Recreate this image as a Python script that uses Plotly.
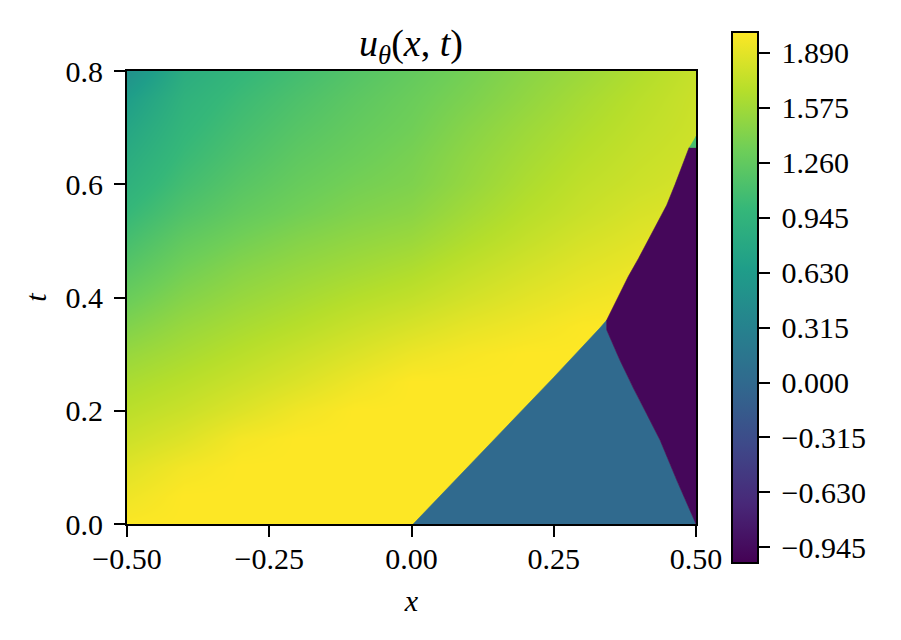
import plotly.graph_objects as go
from plotly.colors import sample_colorscale

FONT = "Liberation Serif"
x_nodes = [-0.5, -0.4, -0.3, -0.2, -0.1, 0.0, 0.1, 0.2, 0.3, 0.4, 0.5]
t_nodes = [0.0, 0.05, 0.1, 0.15, 0.2, 0.25, 0.3, 0.35, 0.4, 0.45, 0.5, 0.55, 0.6, 0.65, 0.7, 0.75, 0.8]
u_field = [
    [2.00, 2.01, 2.01, 2.01, 2.01, 2.01, 2.01, 2.01, 2.01, 2.01, 2.01],
    [1.94, 2.01, 2.01, 2.01, 2.01, 2.01, 2.01, 2.01, 2.01, 2.01, 2.01],
    [1.87, 1.96, 2.01, 2.01, 2.01, 2.01, 2.01, 2.01, 2.01, 2.01, 2.01],
    [1.78, 1.86, 1.97, 2.01, 2.01, 2.01, 2.01, 2.01, 2.01, 2.01, 2.01],
    [1.70, 1.77, 1.86, 1.95, 2.01, 2.01, 2.01, 2.01, 2.01, 2.01, 2.01],
    [1.62, 1.69, 1.77, 1.85, 1.94, 2.01, 2.01, 2.01, 2.01, 2.01, 2.01],
    [1.53, 1.61, 1.69, 1.77, 1.85, 1.93, 1.98, 2.01, 2.01, 2.01, 2.01],
    [1.42, 1.53, 1.61, 1.68, 1.76, 1.83, 1.90, 1.95, 2.00, 2.01, 2.01],
    [1.31, 1.44, 1.53, 1.60, 1.67, 1.73, 1.81, 1.88, 1.94, 1.98, 2.00],
    [1.20, 1.35, 1.45, 1.52, 1.58, 1.64, 1.73, 1.81, 1.88, 1.93, 1.96],
    [1.10, 1.26, 1.36, 1.44, 1.50, 1.55, 1.65, 1.74, 1.82, 1.88, 1.92],
    [1.00, 1.16, 1.27, 1.35, 1.42, 1.47, 1.58, 1.68, 1.76, 1.83, 1.87],
    [0.91, 1.08, 1.20, 1.29, 1.36, 1.41, 1.52, 1.63, 1.72, 1.78, 1.83],
    [0.84, 1.02, 1.14, 1.24, 1.31, 1.38, 1.49, 1.59, 1.68, 1.75, 1.80],
    [0.76, 0.97, 1.09, 1.19, 1.27, 1.34, 1.45, 1.55, 1.64, 1.72, 1.78],
    [0.66, 0.92, 1.04, 1.14, 1.23, 1.31, 1.40, 1.50, 1.60, 1.69, 1.77],
    [0.50, 0.85, 0.98, 1.08, 1.18, 1.27, 1.36, 1.46, 1.55, 1.65, 1.75],
]
# fronts
left_front_x = [0.003, 0.173, 0.249, 0.331, 0.343]
left_front_t = [0.0, 0.178, 0.258, 0.346, 0.360]
lower_front_x = [0.343, 0.343, 0.352, 0.366, 0.39, 0.413, 0.437, 0.466, 0.5]
lower_front_t = [0.360, 0.343, 0.322, 0.290, 0.240, 0.195, 0.148, 0.078, 0.0]
upper_front_x = [0.343, 0.3635, 0.381, 0.399, 0.416, 0.434, 0.4485, 0.463, 0.475, 0.4836, 0.488, 0.5]
upper_front_t = [0.360, 0.401, 0.437, 0.469, 0.5015, 0.534, 0.563, 0.599, 0.631, 0.652, 0.665, 0.665]
notch_x = [0.488, 0.5, 0.5]
notch_t = [0.665, 0.665, 0.685]
u_middle = 0.0
u_right = -0.98
u_notch = 1.1
u_min, u_max = -1.034, 2.008
cbar_vals = [-0.945, -0.63, -0.315, 0.0, 0.315, 0.63, 0.945, 1.26, 1.575, 1.89]
cbar_text = ["\u2009\u22120.945", "\u2009\u22120.630", "\u2009\u22120.315", "\u20090.000", "\u20090.315",
             "\u20090.630", "\u20090.945", "\u20091.260", "\u20091.575", "\u20091.890"]
x_ticks = [-0.5, -0.25, 0.0, 0.25, 0.5]
x_text = ["\u22120.50", "\u22120.25", "0.00", "0.25", "0.50"]
t_ticks = [0.0, 0.2, 0.4, 0.6, 0.8]
t_text = ["0.0", "0.2", "0.4", "0.6", "0.8"]


def col(v):
    return sample_colorscale("Viridis", [(v - u_min) / (u_max - u_min)])[0]


fig = go.Figure()
fig.add_trace(go.Heatmap(
    x=x_nodes, y=t_nodes, z=u_field, zmin=u_min, zmax=u_max, colorscale="Viridis",
    zsmooth="best", hoverinfo="skip",
    colorbar=dict(
        thickness=26, thicknessmode="pixels", len=531, lenmode="pixels",
        x=1.0633, xanchor="left", xpad=0, y=0.5, yanchor="middle", ypad=0,
        outlinewidth=2, outlinecolor="black",
        tickmode="array", tickvals=cbar_vals, ticktext=cbar_text,
        ticks="outside", ticklen=11, tickwidth=2, tickcolor="black",
        tickfont=dict(family=FONT, size=30, color="black"),
    ),
))
regions = [
    (left_front_x + lower_front_x[1:], left_front_t + lower_front_t[1:], u_middle),
    (upper_front_x + [0.5] + lower_front_x[::-1][1:], upper_front_t + [0.0] + lower_front_t[::-1][1:], u_right),
    (notch_x, notch_t, u_notch),
]
for xs, ts, v in regions:
    fig.add_trace(go.Scatter(x=xs, y=ts, mode="lines", fill="toself", fillcolor=col(v),
                             line=dict(width=0.6, color=col(v)), showlegend=False, hoverinfo="skip"))

axis_common = dict(
    showgrid=False, zeroline=False, showline=True, mirror=True, linecolor="black", linewidth=2,
    ticks="outside", ticklen=11, tickwidth=2, tickcolor="black",
    tickfont=dict(family=FONT, size=30, color="black"), tickmode="array",
)
fig.update_layout(
    width=893, height=632, autosize=False, paper_bgcolor="white", plot_bgcolor="white",
    margin=dict(l=119, r=205, t=63, b=116),
    showlegend=False,
    font=dict(family=FONT, color="black"),
    title=dict(text="<i>u</i><sub><i>\u03b8</i></sub>(<i>x</i>, <i>t</i>)", x=403 / 893, xanchor="center",
               y=1 - 35 / 632, yanchor="middle", font=dict(family=FONT, size=38, color="black")),
    xaxis=dict(range=[-0.5, 0.5], tickvals=x_ticks, ticktext=x_text, ticklabelstandoff=-4,
               title=dict(text="<i>x</i>", standoff=16, font=dict(family=FONT, size=30)), **axis_common),
    yaxis=dict(range=[0, 0.8], tickvals=t_ticks, ticktext=t_text, ticklabelstandoff=5,
               title=dict(text="<i>t</i>", standoff=10, font=dict(family=FONT, size=30)), **axis_common),
)
fig.write_html("out.html")
